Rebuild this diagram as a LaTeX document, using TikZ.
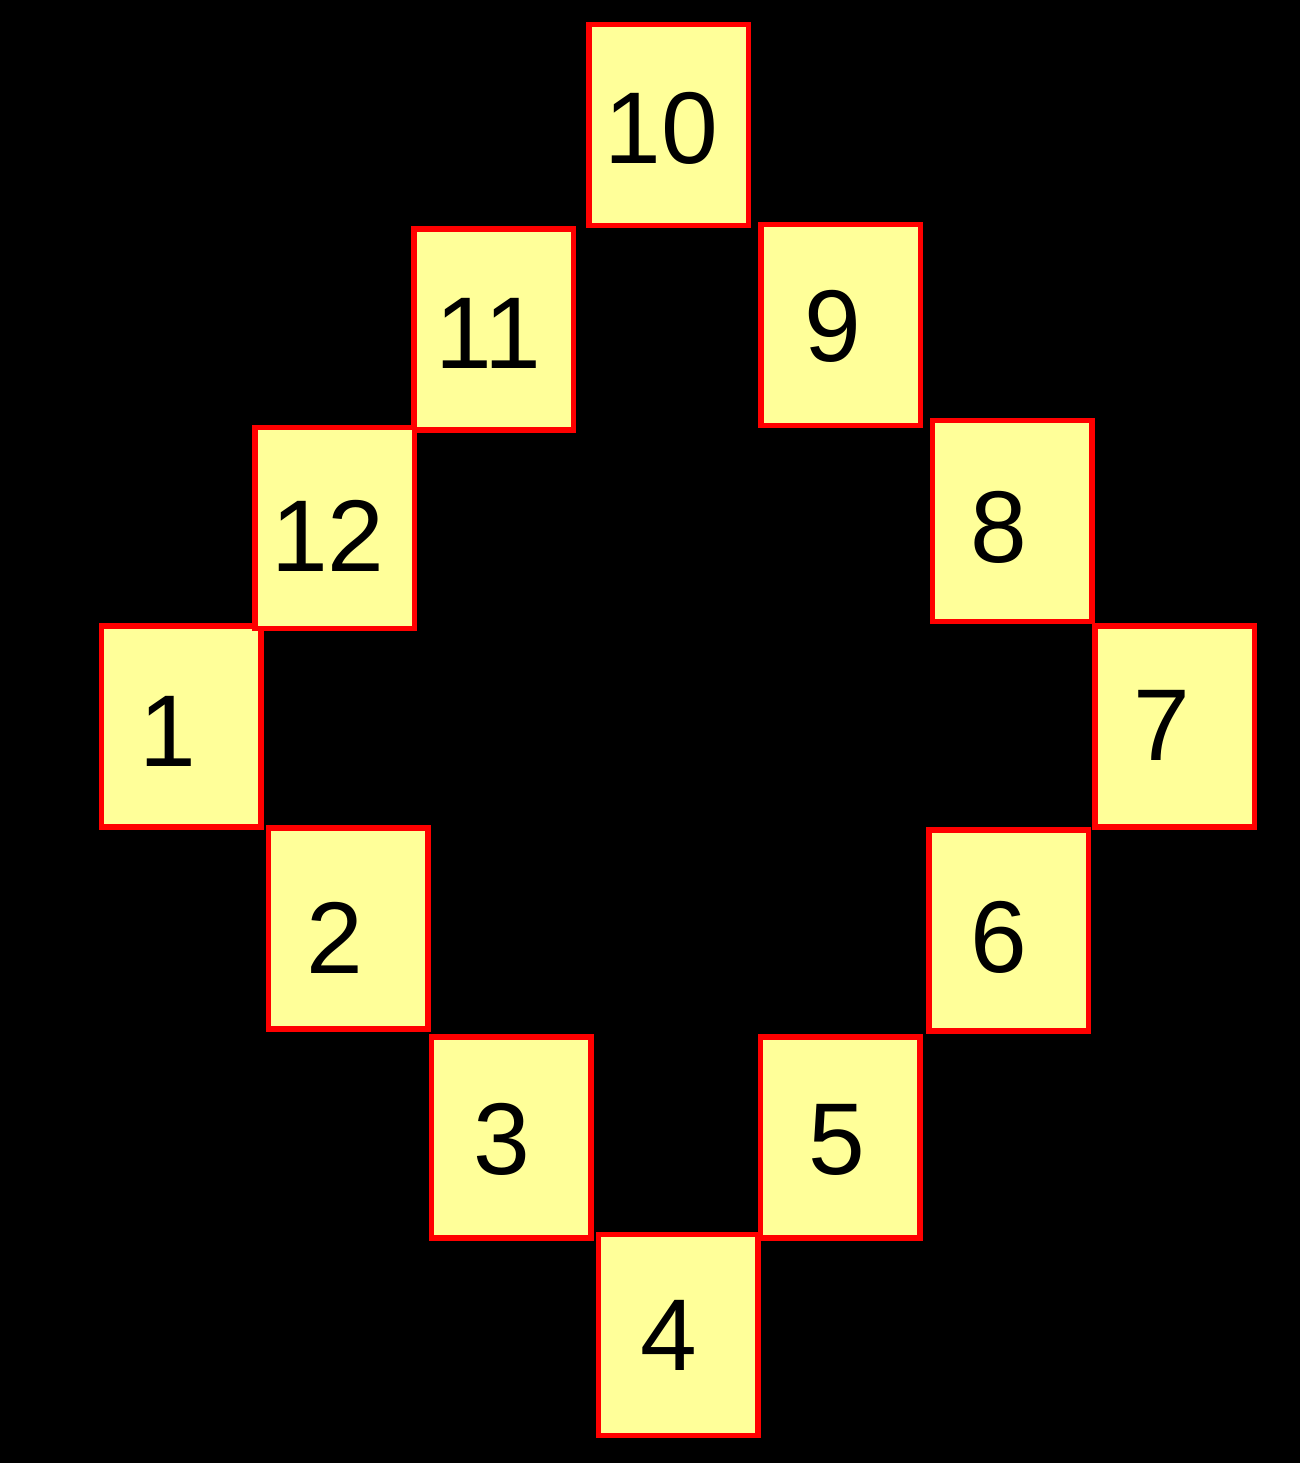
\documentclass[tikz,border=0pt]{standalone}
\usepackage{fontspec}
\setmainfont{Liberation Sans}
\definecolor{boxfill}{HTML}{FFFF99}
\definecolor{boxline}{HTML}{FF0000}
\tikzset{
  boxst/.style={rectangle, draw=boxline, fill=boxfill, line width=5.5pt,
    minimum width=159.5pt, minimum height=201pt, inner sep=0pt},
  numst/.style={inner sep=0pt, text=black, font=\fontsize{102}{102}\selectfont}
}
\begin{document}
\begin{tikzpicture}[x=1pt,y=-1pt]
\fill[black] (0,0) rectangle (1300,1463);
\useasboundingbox (0,0) rectangle (1300,1463);
% boxes (centres)
\node[boxst] (b1)  at (181,726.5) {};
\node[boxst] (b2)  at (348,928.5) {};
\node[boxst] (b3)  at (511,1137.5) {};
\node[boxst] (b5)  at (840,1137.5) {};
\node[boxst] (b4)  at (678,1335) {};
\node[boxst] (b6)  at (1008.5,930.5) {};
\node[boxst] (b7)  at (1174.5,726.5) {};
\node[boxst] (b8)  at (1012,521) {};
\node[boxst] (b9)  at (840.5,325) {};
\node[boxst] (b10) at (668.5,125) {};
\node[boxst] (b11) at (493.5,329.5) {};
\node[boxst] (b12) at (334.5,528) {};
% numbers
\node[numst] (t1)  at ([shift={(-13.2,5)}]b1.center) {1};
\node[numst] (t2)  at ([shift={(-12.7,9)}]b2.center) {2};
\node[numst] (t3)  at ([shift={(-9,1.5)}]b3.center) {3};
\node[numst] (t4)  at ([shift={(-8.9,0)}]b4.center) {4};
\node[numst] (t5)  at ([shift={(-3,2.5)}]b5.center) {5};
\node[numst] (t6)  at ([shift={(-9.7,7)}]b6.center) {6};
\node[numst] (t7)  at ([shift={(-12.5,-1.5)}]b7.center) {7};
\node[numst] (t8)  at ([shift={(-13.5,6.5)}]b8.center) {8};
\node[numst] (t9)  at ([shift={(-8,1.5)}]b9.center) {9};
\node[numst] (t10) at ([shift={(-6.8,3.5)}]b10.center) {10};
\node[numst] (t11) at ([shift={(-4.8,4)}]b11.center) {11};
\node[numst] (t12) at ([shift={(-6.5,7.5)}]b12.center) {12};
\end{tikzpicture}
\end{document}
